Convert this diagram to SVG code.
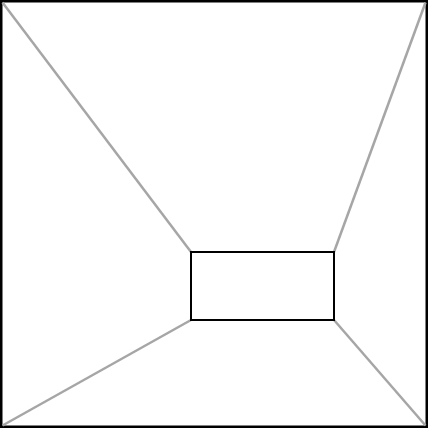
<svg xmlns="http://www.w3.org/2000/svg" width="428" height="428" viewBox="0 0 428 428">
<style>
.conn{stroke:#a6a6a6;stroke-width:2.5;fill:none}
.box{fill:#fff;stroke:#000;stroke-width:2}
</style>
<rect x="0" y="0" width="428" height="428" fill="#fff"/>
<g id="frame"><rect x="1.25" y="1.25" width="425.5" height="425.5" fill="none" stroke="#000" stroke-width="2.5"/></g>
<g id="connectors">
<line class="conn" x1="2.5" y1="2.5" x2="191" y2="252"/>
<line class="conn" x1="425.5" y1="2.5" x2="334" y2="252"/>
<line class="conn" x1="2.5" y1="425.5" x2="191" y2="320"/>
<line class="conn" x1="425.5" y1="425.5" x2="334" y2="320"/>
</g>
<g id="inner"><rect class="box" x="191" y="252" width="143" height="68"/></g>
</svg>
